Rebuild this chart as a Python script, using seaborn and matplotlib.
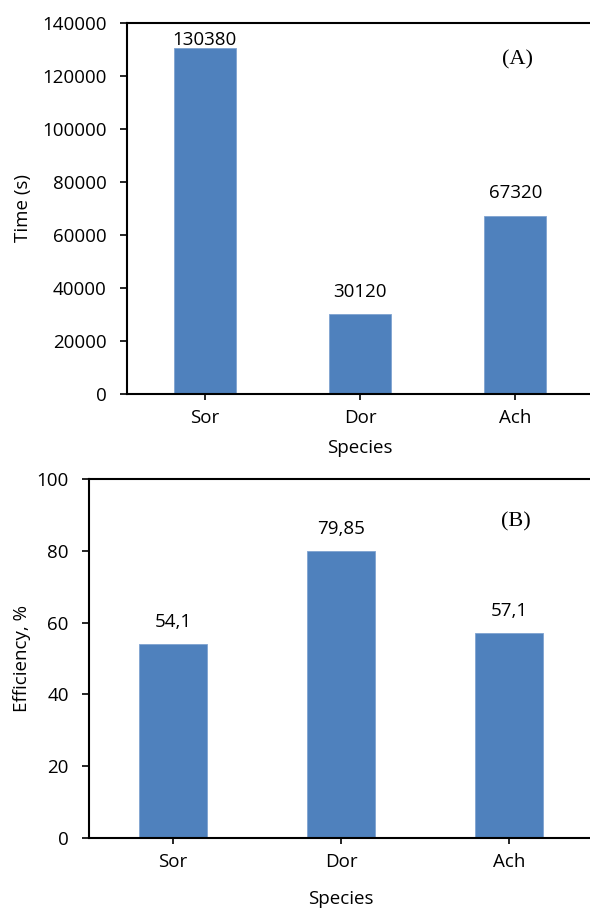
import numpy as np
import pandas as pd
import matplotlib
matplotlib.use("Agg")
import matplotlib.pyplot as plt
import seaborn as sns

# data
species = ["Sor", "Dor", "Ach"]
time_s = [130380, 30120, 67320]
time_labels = ["130380", "30120", "67320"]
efficiency = [54.1, 79.85, 57.1]
eff_labels = ["54,1", "79,85", "57,1"]

time_ticks = [0, 20000, 40000, 60000, 80000, 100000, 120000, 140000]
eff_ticks = [0, 20, 40, 60, 80, 100]

bar_color = "#4F81BD"
fs = 13.5

sns.set_style("white")
plt.rcParams["font.family"] = ["Open Sans", "DejaVu Sans"]
plt.rcParams["font.size"] = fs
plt.rcParams["text.color"] = "black"
plt.rcParams["axes.labelcolor"] = "black"

fig = plt.figure(figsize=(5.9, 9.08), dpi=100)
ax_a = fig.add_axes([127 / 590, (908 - 394) / 908, 466 / 590, 371 / 908])
ax_b = fig.add_axes([89 / 590, (908 - 838) / 908, 504 / 590, 359 / 908])

df_a = pd.DataFrame({"Species": species, "Time": time_s})
df_b = pd.DataFrame({"Species": species, "Efficiency": efficiency})

sns.barplot(data=df_a, x="Species", y="Time", color=bar_color, width=0.4,
            saturation=1, edgecolor="#7FA3D1", linewidth=0.6, ax=ax_a)
sns.barplot(data=df_b, x="Species", y="Efficiency", color=bar_color, width=0.4,
            saturation=1, edgecolor="#7FA3D1", linewidth=0.6, ax=ax_b)


def style_axis(ax, ticks, ymax, ylabel, xlab_y, ylab_x):
    ax.set_xlim(-0.5, 2.5)
    ax.set_ylim(0, ymax)
    ax.set_yticks(ticks)
    ax.set_yticklabels([str(t) for t in ticks])
    for side in ["left", "bottom", "top"]:
        ax.spines[side].set_visible(True)
        ax.spines[side].set_color("black")
        ax.spines[side].set_linewidth(1.5)
    ax.spines["right"].set_visible(False)
    ax.tick_params(axis="y", direction="out", length=5, width=1.2, pad=9.5,
                   left=True, colors="black", labelsize=fs)
    ax.tick_params(axis="x", direction="out", length=4, width=1.2, pad=7,
                   bottom=True, colors="black", labelsize=fs)
    ax.set_ylabel(ylabel, fontsize=fs, color="black")
    ax.set_xlabel("Species", fontsize=fs, color="black")
    ax.yaxis.set_label_coords(ylab_x, 0.5)
    ax.xaxis.set_label_coords(0.5, xlab_y)
    ax.xaxis.label.set_va("center")
    ax.yaxis.label.set_va("center")


style_axis(ax_a, time_ticks, 140000, "Time (s)", -0.146, -0.223)
style_axis(ax_b, eff_ticks, 100, "Efficiency, %", -0.170, -0.133)

# value labels above bars
for ax, vals, labs, ymax in [(ax_a, time_s, time_labels, 140000),
                             (ax_b, efficiency, eff_labels, 100)]:
    for i, (v, lab) in enumerate(zip(vals, labs)):
        off = 6 if v / ymax > 0.85 else 16
        ax.annotate(lab, (i, v), xytext=(0, off), textcoords="offset points",
                    ha="center", va="center", fontsize=fs, color="black")

ax_a.text(0.839, 0.900, "(A)", transform=ax_a.transAxes, ha="center", va="center",
          fontsize=16, color="black", family=["Liberation Serif", "DejaVu Serif"])
ax_b.text(0.847, 0.880, "(B)", transform=ax_b.transAxes, ha="center", va="center",
          fontsize=16, color="black", family=["Liberation Serif", "DejaVu Serif"])

fig.savefig("out.png", dpi=100)
